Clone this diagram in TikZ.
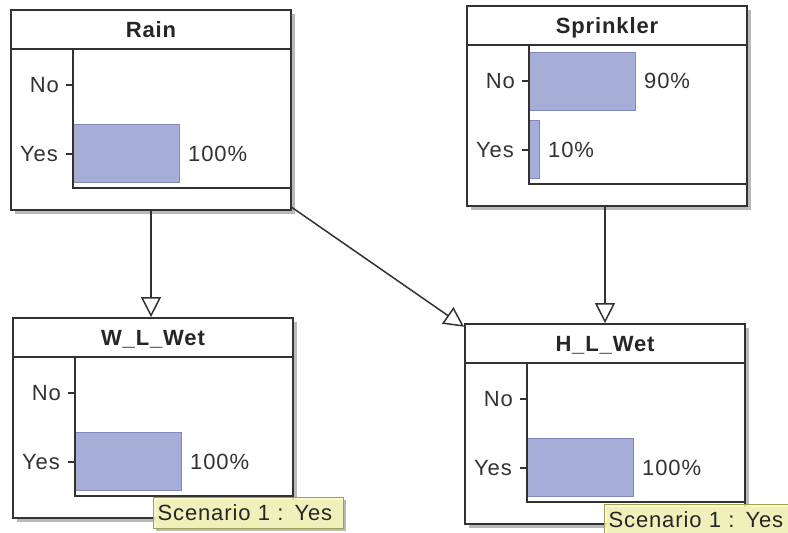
\documentclass[tikz,border=0pt]{standalone}
\usepackage{fontspec}
\setmainfont[LetterSpace=4]{Liberation Sans}
\usetikzlibrary{arrows.meta}

\definecolor{bnborder}{RGB}{50,50,50}
\definecolor{bnbarfill}{RGB}{166,174,216}
\definecolor{bnbarline}{RGB}{128,136,188}
\definecolor{bntipfill}{RGB}{250,250,188}
\definecolor{bntipline}{RGB}{160,160,90}
\definecolor{bnshadow}{RGB}{185,185,185}

\tikzset{
  bnline/.style={draw=bnborder, line width=1.8pt},
  bnbox/.style={bnline, fill=white, rectangle, minimum width=280pt, minimum height=200pt, inner sep=0pt},
  bnshade/.style={fill=bnshadow},
  bntitle/.style={inner sep=0pt, anchor=base, font=\fontsize{22}{24}\selectfont\bfseries, text=black!85},
  bnlab/.style={inner sep=0pt, font=\fontsize{22}{24}\selectfont, text=black!80},
  bnbar/.style={draw=bnbarline, fill=bnbarfill, line width=1pt},
  bntip/.style={draw=bntipline, fill=bntipfill, fill opacity=0.85, text opacity=1,
    line width=1.2pt, anchor=north west, inner xsep=4pt, inner ysep=0pt,
    text width=182pt, minimum height=31pt, align=left,
    font=\fontsize{22}{24}\selectfont, text=black!85},
  bnarrow/.style={draw=bnborder, line width=1.5pt,
    -{Triangle[open, length=20pt, width=20pt, line width=1.5pt]}},
}

% one network node: name, X, Y, title, no-bar length, no label, yes-bar length, yes label
\newcommand{\bnnode}[8]{%
  \begin{scope}[shift={(#2,#3)}]
    \fill[bnshade] (4,4) rectangle (284,204);
    \node[bnbox] (#1) at (140,100) {};
    \draw[bnline] (0,39) -- (280,39);
    \node[bntitle] (#1-title) at (140,27.7) {#4};
    \ifnum#5>0 \draw[bnbar] (62,46) rectangle (62+#5,104);
      \node[bnlab, anchor=base west] (#1-pno) at (71+#5,82.7) {#6};\fi
    \ifnum#7>0 \draw[bnbar] (62,114) rectangle (62+#7,172);
      \node[bnlab, anchor=base west] (#1-pyes) at (71+#7,151.7) {#8};\fi
    \draw[bnline] (62,39) -- (62,178) -- (280,178);
    \draw[bnline] (55,75) -- (62,75);
    \draw[bnline] (55,144) -- (62,144);
    \node[bnlab, anchor=base east] (#1-no) at (48,82.7) {No};
    \node[bnlab, anchor=base east] (#1-yes) at (47,151.7) {Yes};
  \end{scope}}

\begin{document}
\begin{tikzpicture}[x=1pt, y=-1pt]
  \useasboundingbox (0,0) rectangle (788,533);
  \clip (0,0) rectangle (788,533);
  \fill[white] (0,0) rectangle (788,533);

  \bnnode{rain}{11}{10}{Rain}{0}{}{106}{100\%}
  \bnnode{sprinkler}{467}{6}{Sprinkler}{106}{90\%}{10}{10\%}
  \bnnode{wlwet}{13}{318}{W\_L\_Wet}{0}{}{106}{100\%}
  \bnnode{hlwet}{465}{324}{H\_L\_Wet}{0}{}{106}{100\%}

  % dependencies
  \draw[bnarrow] (rain.south) -- (rain.south |- wlwet.north);
  \draw[bnarrow] (rain) -- (hlwet);
  \draw[bnarrow] (hlwet.north |- sprinkler.south) -- (hlwet.north);

  % scenario tooltips
  \fill[bnshade] (156,500) rectangle (346,531);
  \node[bntip] (wlwet-tip) at (153,497) {Scenario 1 : Yes};
  \fill[bnshade] (607,507) rectangle (797,538);
  \node[bntip] (hlwet-tip) at (604,504) {Scenario 1 : Yes};
\end{tikzpicture}
\end{document}
